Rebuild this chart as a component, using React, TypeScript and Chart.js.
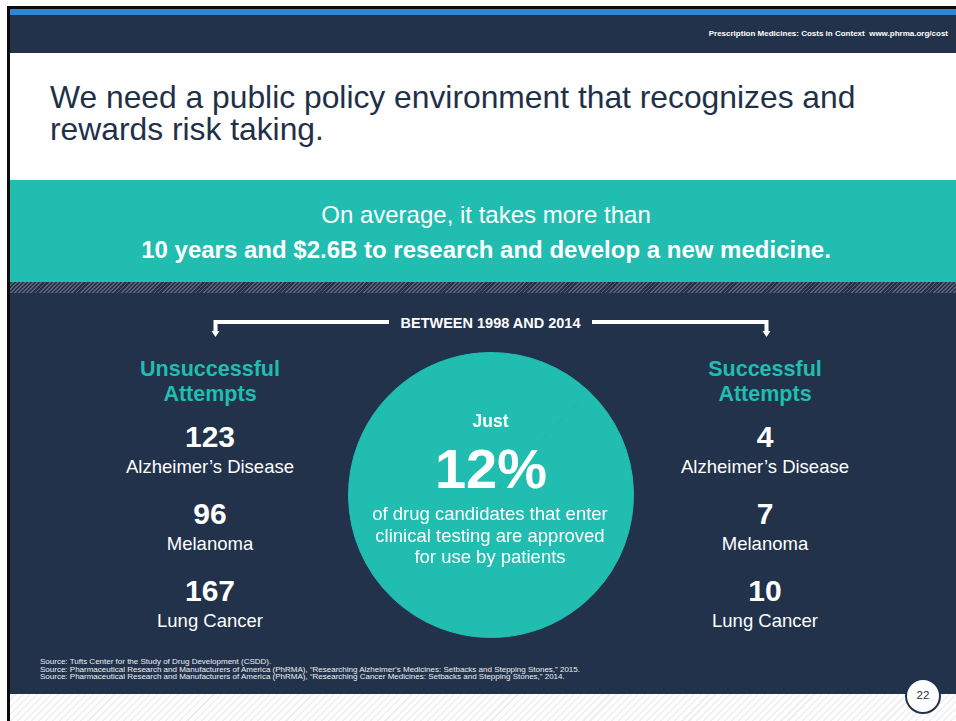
import React, { useEffect, useRef } from "react";
import { Chart, registerables } from "chart.js";

Chart.register(...registerables);

// ---------- data ----------
const headerNote = "Prescription Medicines: Costs in Context\u00a0\u00a0www.phrma.org/cost";
const titleLines = [
  "We need a public policy environment that recognizes and",
  "rewards risk taking.",
];
const bannerLines = [
  "On average, it takes more than",
  "10 years and $2.6B to research and develop a new medicine.",
];
const periodLabel = "BETWEEN 1998 AND 2014";
const conditions = ["Alzheimer\u2019s Disease", "Melanoma", "Lung Cancer"];
const unsuccessfulAttempts = [123, 96, 167];
const successfulAttempts = [4, 7, 10];
const groupTitles = [["Unsuccessful", "Attempts"], ["Successful", "Attempts"]];
const approvalShare = [12, 88]; // % approved, % not approved
const circleLead = "Just";
const circleText = [
  "of drug candidates that enter",
  "clinical testing are approved",
  "for use by patients",
];
const sources = [
  "Source: Tufts Center for the Study of Drug Development (CSDD).",
  "Source: Pharmaceutical Research and Manufacturers of America (PhRMA), \u201cResearching Alzheimer\u2019s Medicines: Setbacks and Stepping Stones,\u201d 2015.",
  "Source: Pharmaceutical Research and Manufacturers of America (PhRMA), \u201cResearching Cancer Medicines: Setbacks and Stepping Stones,\u201d 2014.",
];
const pageNumber = "22";

// ---------- styles ----------
const NAVY = "#22324a";
const TEAL = "#21bdb0";
const BLUE = "#2f86d1";
const FONT = '"Liberation Sans", Arial, Helvetica, sans-serif';

type TProps = {
  x: number;
  y: number; // baseline
  size: number;
  weight?: number;
  color?: string;
  align?: "left" | "center" | "right";
  children: React.ReactNode;
};

function T({ x, y, size, weight = 400, color = "#fff", align = "center", children }: TProps) {
  const top = y - 0.8465 * size;
  const style: React.CSSProperties = {
    position: "absolute",
    top,
    fontSize: size,
    lineHeight: `${size}px`,
    fontWeight: weight,
    color,
    whiteSpace: "nowrap",
    fontFamily: FONT,
  };
  if (align === "left") style.left = x;
  else if (align === "right") style.right = 956 - x;
  else {
    style.left = x;
    style.transform = "translateX(-50%)";
  }
  return <div style={style}>{children}</div>;
}

function Box(props: { x: number; y: number; w: number; h: number; bg: string }) {
  return (
    <div
      style={{
        position: "absolute",
        left: props.x,
        top: props.y,
        width: props.w,
        height: props.h,
        background: props.bg,
      }}
    />
  );
}

function CircleChart() {
  const ref = useRef<HTMLCanvasElement | null>(null);
  useEffect(() => {
    if (!ref.current) return;
    const chart = new Chart(ref.current, {
      type: "pie",
      data: {
        labels: ["Approved", "Not approved"],
        datasets: [
          {
            data: approvalShare,
            backgroundColor: [TEAL, TEAL],
            borderColor: [TEAL, TEAL],
            borderWidth: 1,
          },
        ],
      },
      options: {
        responsive: false,
        animation: false,
        devicePixelRatio: 1,
        layout: { padding: 0 },
        plugins: {
          legend: { display: false },
          tooltip: { enabled: false },
        },
        events: [],
      },
    });
    return () => chart.destroy();
  }, []);
  return (
    <canvas
      ref={ref}
      width={286}
      height={286}
      style={{ position: "absolute", left: 348, top: 352, width: 286, height: 286 }}
    />
  );
}

export default function App() {
  const colX = [210, 765];
  const numBase = [447, 524, 601];
  const labelBase = [474, 551, 628];
  const titleSize = 31.8;
  return (
    <div
      style={{
        position: "absolute",
        left: 0,
        top: 0,
        width: 956,
        height: 721,
        overflow: "hidden",
        background: "#fff",
        fontFamily: FONT,
      }}
    >
      {/* frame */}
      <Box x={7} y={6} w={949} h={3} bg="#0b0b0b" />
      <Box x={7} y={6} w={3} h={715} bg="#0b0b0b" />
      {/* header */}
      <Box x={10} y={9} w={946} h={6} bg={BLUE} />
      <Box x={10} y={15} w={946} h={38} bg={NAVY} />
      <T x={948} y={37} size={8} weight={700} align="right">
        {headerNote}
      </T>
      {/* title (one text block, two lines) */}
      <div
        style={{
          position: "absolute",
          left: 50,
          top: 108 - 0.8465 * 32 - (32 - 32) / 2 - (titleSize - 32) * 0 ,
          fontSize: titleSize,
          lineHeight: "32px",
          color: "#1f3049",
          whiteSpace: "nowrap",
          fontFamily: FONT,
        }}
      >
        {titleLines[0]}
        <br />
        {titleLines[1]}
      </div>
      {/* teal banner */}
      <Box x={10} y={180} w={946} h={102} bg={TEAL} />
      <T x={486} y={223.5} size={24}>
        {bannerLines[0]}
      </T>
      <T x={486} y={258} size={24} weight={700}>
        {bannerLines[1]}
      </T>
      {/* hatch band */}
      <div
        style={{
          position: "absolute",
          left: 10,
          top: 282,
          width: 946,
          height: 11,
          background: `repeating-linear-gradient(135deg, ${NAVY} 0px, ${NAVY} 1.6px, #5a6476 1.6px, #5a6476 2.9px)`,
        }}
      />
      {/* navy body */}
      <Box x={10} y={293} w={946} h={401} bg={NAVY} />
      {/* bottom hatch */}
      <div
        style={{
          position: "absolute",
          left: 10,
          top: 694,
          width: 946,
          height: 27,
          background:
            "repeating-linear-gradient(135deg, #ffffff 0px, #ffffff 3.5px, #efefef 3.5px, #efefef 5px)",
        }}
      />
      {/* bracket */}
      <svg
        width={956}
        height={721}
        style={{ position: "absolute", left: 0, top: 0 }}
      >
        <polyline
          points="389,322 215.5,322 215.5,332"
          fill="none"
          stroke="#fff"
          strokeWidth={4}
        />
        <polygon points="211.5,331 219.5,331 215.5,337" fill="#fff" />
        <polyline
          points="592,322 766.5,322 766.5,332"
          fill="none"
          stroke="#fff"
          strokeWidth={4}
        />
        <polygon points="762.5,331 770.5,331 766.5,337" fill="#fff" />
      </svg>
      <T x={490.5} y={328} size={14.5} weight={700}>
        {periodLabel}
      </T>
      {/* columns */}
      {[unsuccessfulAttempts, successfulAttempts].map((vals, c) => (
        <React.Fragment key={c}>
          <T x={colX[c]} y={377.5} size={21.5} weight={700} color={TEAL}>
            {groupTitles[c][0]}
          </T>
          <T x={colX[c]} y={402} size={21.5} weight={700} color={TEAL}>
            {groupTitles[c][1]}
          </T>
          {vals.map((v, i) => (
            <React.Fragment key={i}>
              <T x={colX[c]} y={numBase[i]} size={30} weight={700}>
                {String(v)}
              </T>
              <T x={colX[c]} y={labelBase[i]} size={18.5}>
                {conditions[i]}
              </T>
            </React.Fragment>
          ))}
        </React.Fragment>
      ))}
      {/* circle */}
      <CircleChart />
      <T x={490.5} y={427.5} size={17.5} weight={700}>
        {circleLead}
      </T>
      <T x={491} y={488} size={56} weight={700}>
        {`${approvalShare[0]}%`}
      </T>
      {circleText.map((l, i) => (
        <T key={i} x={490} y={520.5 + i * 21.7} size={18.5}>
          {l}
        </T>
      ))}
      {/* sources */}
      {sources.map((s, i) => (
        <T key={i} x={40} y={665 + i * 7.6} size={8} color="#eef0f4" align="left">
          {s}
        </T>
      ))}
      {/* page number */}
      <div
        style={{
          position: "absolute",
          left: 905,
          top: 677.5,
          width: 32,
          height: 32,
          borderRadius: "50%",
          border: `2px solid ${NAVY}`,
          background: "#fff",
        }}
      />
      <T x={923} y={699.5} size={11.5} color={NAVY}>
        {pageNumber}
      </T>
    </div>
  );
}
